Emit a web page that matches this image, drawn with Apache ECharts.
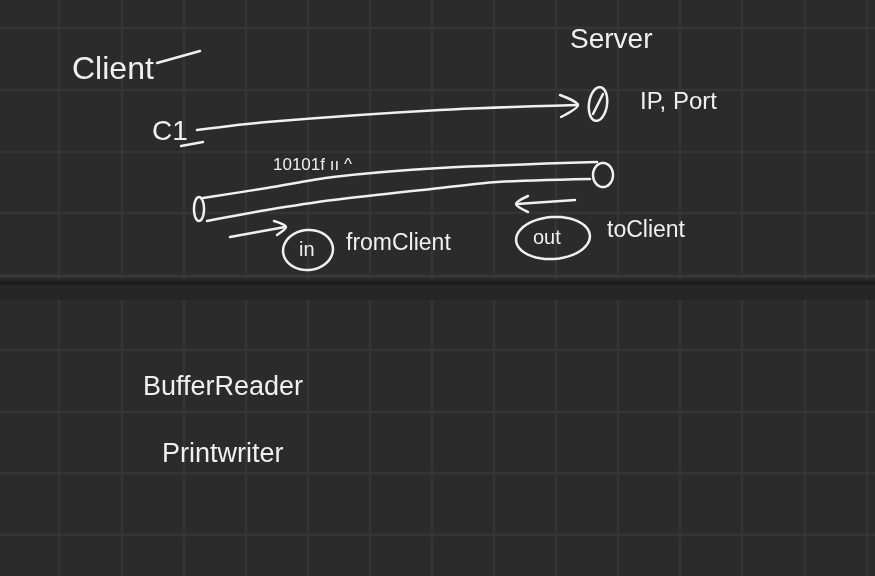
<!DOCTYPE html>
<html>
<head>
<meta charset="utf-8">
<script src="https://cdn.jsdelivr.net/npm/echarts@6/dist/echarts.min.js"></script>
<style>
html, body { margin: 0; padding: 0; background: #2b2b2b; }
#board { width: 875px; height: 576px; }
</style>
</head>
<body>
<div id="board"></div>
<script>
// board grid (pixel units of the 875x576 board)
const gridX = [59, 122, 184, 246, 308, 370, 432, 494, 556, 618, 680, 742, 805, 867];
const gridY = [28, 90, 152, 213, 276, 350, 412, 473, 535];
// seam between the two pages: from, to, fill
const bandRows = [[279, 300, '#262626'], [281, 285, '#1d1d1d']];

// pen strokes
const arrowShaft = [[197, 130], [267, 122], [440, 110], [577, 105]];
const arrowHead = [[560, 95], [578, 105], [561, 117]];
const tubeTop = [[203, 198], [267, 188], [333, 177], [440, 168], [597, 162]];
const tubeBottom = [[207, 221], [267, 210], [333, 200], [440, 188], [497, 182], [590, 179]];
const inArrow = [[230, 237], [285, 227]];
const inArrowHead = [[274, 221], [286, 227], [277, 235]];
const outArrow = [[575, 200], [517, 204]];
const outArrowHead = [[528, 196], [516, 204], [528, 212]];
const socketSlash = [[593, 114], [603, 94]];
const oneFoot = [[181, 146], [203, 142]];
const clientBar = [[157, 63], [200, 51]];

// loops: cx, cy, rx, ry, tilt (deg)
const loops = [
    [598, 104, 9, 17, 8],
    [199, 209, 5, 12, 0],
    [603, 175, 10, 12, 0],
    [308, 250, 25, 20, -5],
    [553, 238, 37, 21, -4]
];

// words
const labelText = ['Client', 'Server', 'C1', 'IP, Port', '10101f ıı ^', 'in', 'fromClient', 'out', 'toClient', 'BufferReader', 'Printwriter'];
const labelAt = [[72, 70], [570, 40], [152, 132], [640, 102], [273, 165], [299, 250], [346, 244], [533, 238], [607, 231], [143, 388], [162, 455]];
const labelSize = [32, 28, 28, 24, 17, 20, 23, 20, 23, 27, 27];

const INK = '#f0f0f0';
const GRID = '#353535';

const strokeSeries = (pts) => ({
    type: 'line',
    data: pts,
    smooth: 0.3,
    showSymbol: false,
    silent: true,
    lineStyle: { color: INK, width: 2.5, cap: 'round', join: 'round' }
});

const drawBoard = () => {
    const chart = echarts.init(document.getElementById('board'));

    const strokes = [arrowShaft, arrowHead, tubeTop, tubeBottom, inArrow, inArrowHead,
        outArrow, outArrowHead, socketSlash, oneFoot, clientBar];

    const option = {
        backgroundColor: '#2b2b2b',
        animation: false,
        grid: { left: 0, right: 0, top: 0, bottom: 0 },
        xAxis: { type: 'value', min: 0, max: 875, show: false },
        yAxis: { type: 'value', min: 0, max: 576, inverse: true, show: false },
        series: [
            {
                // vertical grid lines
                type: 'custom',
                silent: true,
                data: gridX.map(x => [x]),
                encode: { x: 0 },
                renderItem: (params, api) => {
                    const a = api.coord([api.value(0), 0]);
                    const b = api.coord([api.value(0), 576]);
                    return {
                        type: 'line',
                        shape: { x1: a[0], y1: a[1], x2: b[0], y2: b[1] },
                        style: { stroke: GRID, lineWidth: 2.5 }
                    };
                }
            },
            {
                // page seam
                type: 'custom',
                silent: true,
                data: bandRows.map(r => [0, r[0], r[1]]),
                encode: { x: 0, y: 1 },
                renderItem: (params, api) => {
                    const a = api.coord([0, api.value(1)]);
                    const b = api.coord([875, api.value(2)]);
                    return {
                        type: 'rect',
                        shape: { x: a[0], y: a[1], width: b[0] - a[0], height: b[1] - a[1] },
                        style: { fill: bandRows[params.dataIndex][2] }
                    };
                }
            },
            {
                // horizontal grid lines
                type: 'custom',
                silent: true,
                data: gridY.map(y => [0, y]),
                encode: { x: 0, y: 1 },
                renderItem: (params, api) => {
                    const a = api.coord([0, api.value(1)]);
                    const b = api.coord([875, api.value(1)]);
                    return {
                        type: 'line',
                        shape: { x1: a[0], y1: a[1], x2: b[0], y2: b[1] },
                        style: { stroke: api.value(1) === 276 ? '#3a3a3a' : GRID, lineWidth: 2.5 }
                    };
                }
            },
            ...strokes.map(strokeSeries),
            {
                type: 'custom',
                silent: true,
                data: loops,
                encode: { x: 0, y: 1 },
                renderItem: (params, api) => {
                    const c = api.coord([api.value(0), api.value(1)]);
                    const r = api.size([api.value(2), api.value(3)]);
                    const t = api.value(4) * Math.PI / 180;
                    const points = [];
                    for (let k = 0; k < 48; k++) {
                        const u = k / 48 * Math.PI * 2;
                        const ex = r[0] * Math.cos(u), ey = r[1] * Math.sin(u);
                        points.push([c[0] + ex * Math.cos(t) - ey * Math.sin(t), c[1] + ex * Math.sin(t) + ey * Math.cos(t)]);
                    }
                    return {
                        type: 'polygon',
                        shape: { points },
                        style: { fill: 'none', stroke: INK, lineWidth: 2.5 }
                    };
                }
            },
            {
                type: 'custom',
                silent: true,
                data: labelAt.map((p, i) => [p[0], p[1], i]),
                encode: { x: 0, y: 1 },
                renderItem: (params, api) => {
                    const c = api.coord([api.value(0), api.value(1)]);
                    const i = api.value(2);
                    return {
                        type: 'text',
                        x: c[0],
                        y: c[1],
                        style: {
                            text: labelText[i],
                            fill: INK,
                            font: labelSize[i] + 'px "Liberation Sans", sans-serif',
                            align: 'left',
                            verticalAlign: 'middle'
                        }
                    };
                }
            }
        ]
    };

    chart.setOption(option);
};

document.addEventListener('DOMContentLoaded', () => {
    drawBoard();
});
</script>
</body>
</html>
